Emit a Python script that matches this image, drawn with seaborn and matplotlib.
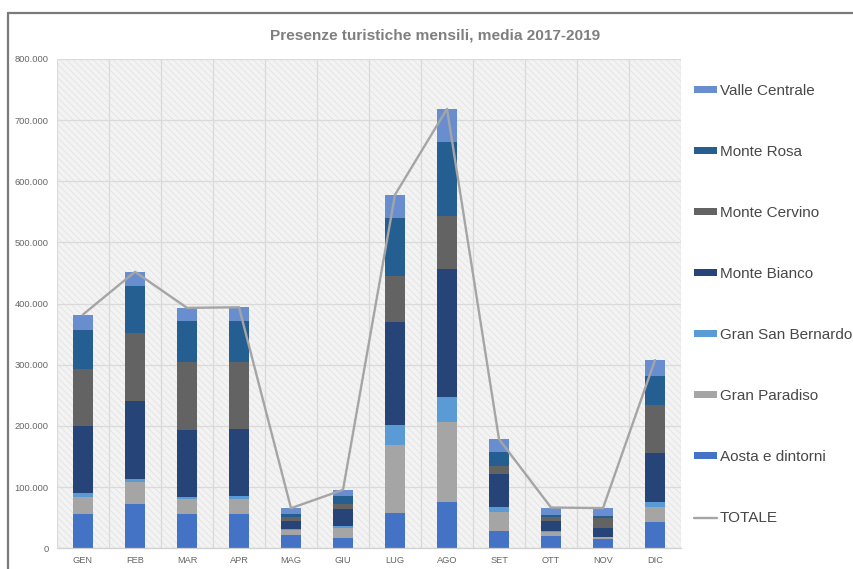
import numpy as np
import pandas as pd
import seaborn as sns
import matplotlib
matplotlib.use("Agg")
import matplotlib.pyplot as plt
from matplotlib import font_manager
from matplotlib.patches import Patch, Rectangle
from matplotlib.lines import Line2D
from matplotlib.ticker import FuncFormatter, MultipleLocator, FixedLocator

# ---- data: monthly tourist presences by area (average 2017-2019) ----
months = ["GEN", "FEB", "MAR", "APR", "MAG", "GIU", "LUG", "AGO", "SET", "OTT", "NOV", "DIC"]
aosta = [55700, 72600, 56000, 56000, 21900, 16400, 58500, 75400, 29000, 20200, 14800, 42600]
gran_paradiso = [28000, 35500, 24000, 25000, 8200, 17500, 110000, 131000, 30500, 7100, 3300, 25700]
gran_san_bernardo = [6500, 5500, 4600, 4600, 1600, 2700, 33000, 41000, 7500, 1600, 1100, 6600]
monte_bianco = [109000, 127500, 109500, 109500, 13700, 27900, 168000, 209000, 54500, 16400, 13700, 80800]
monte_cervino = [94500, 111000, 110000, 110000, 5500, 8200, 75500, 87500, 13500, 5500, 16400, 79300]
monte_rosa = [64000, 77000, 67000, 67000, 4900, 13100, 95000, 120000, 22000, 3300, 3800, 46400]
valle_centrale = [24500, 23000, 22000, 22000, 9800, 9800, 38000, 54500, 21500, 12600, 12600, 26300]

# stacking order, bottom to top
series = [
    ("Aosta e dintorni", aosta, "#4472c4"),
    ("Gran Paradiso", gran_paradiso, "#a5a5a5"),
    ("Gran San Bernardo", gran_san_bernardo, "#5b9bd5"),
    ("Monte Bianco", monte_bianco, "#264478"),
    ("Monte Cervino", monte_cervino, "#636363"),
    ("Monte Rosa", monte_rosa, "#255e91"),
    ("Valle Centrale", valle_centrale, "#698ed0"),
]

# ---- fonts ----
sns.set_theme(style="white")
installed = {f.name for f in font_manager.fontManager.ttflist}
if "Liberation Sans Narrow" in installed:
    base_family = ["Liberation Sans Narrow", "Liberation Sans", "DejaVu Sans"]
    narrow = True
else:
    base_family = ["Liberation Sans", "DejaVu Sans"]
    narrow = False
plt.rcParams["font.family"] = base_family
plt.rcParams["hatch.linewidth"] = 0.6

W, H = 854, 569
fig = plt.figure(figsize=(W / 100, H / 100), dpi=100)
fig.patch.set_facecolor("white")

ax_l, ax_r, ax_t, ax_b = 57, 681, 59, 548.3
ax = fig.add_axes([ax_l / W, 1 - ax_b / H, (ax_r - ax_l) / W, (ax_b - ax_t) / H])

# plot area background with fine diagonal texture
ax.set_facecolor("#f3f3f3")
ax.add_patch(Rectangle((0, 0), 1, 1, transform=ax.transAxes, facecolor="none",
                       edgecolor="#e3e3e3", lw=0, hatch="\\\\\\\\\\", zorder=0))

# ---- stacked bars: draw cumulative totals from top layer down ----
cum = np.zeros(len(months))
cums = []
for name, vals, color in series:
    cum = cum + np.array(vals, dtype=float)
    cums.append((name, cum.copy(), color))

for name, c, color in reversed(cums):
    d = pd.DataFrame({"mese": months, "valore": c})
    sns.barplot(data=d, x="mese", y="valore", color=color, width=0.385,
                saturation=1, linewidth=0, ax=ax, zorder=2, order=months)

# total line
totale = cums[-1][1]
ax.plot(np.arange(len(months)), totale, color="#a5a5a5", lw=1.7, zorder=4,
        solid_capstyle="round", solid_joinstyle="round")

# ---- axes styling ----
ax.set_xlim(-0.5, len(months) - 0.5)
ax.set_ylim(0, 800000)
ax.yaxis.set_major_locator(MultipleLocator(100000))
ax.yaxis.set_major_formatter(FuncFormatter(lambda v, p: f"{int(v):,}".replace(",", ".")))
ax.xaxis.set_minor_locator(FixedLocator(np.arange(-0.5, len(months), 1)))
ax.grid(axis="y", which="major", color="#dadada", lw=0.9, zorder=1)
ax.grid(axis="x", which="minor", color="#dadada", lw=0.9, zorder=1)
ax.grid(axis="x", which="major", visible=False)
ax.set_axisbelow(True)
for s in ["left", "right", "top"]:
    ax.spines[s].set_visible(False)
ax.spines["bottom"].set_color("#d0d0d0")
ax.spines["bottom"].set_linewidth(0.9)
ax.set_xlabel("")
ax.set_ylabel("")
tick_fs = 7.7 if narrow else 6.7
ax.tick_params(axis="y", length=0, pad=6, labelsize=tick_fs, labelcolor="#666666")
ax.tick_params(axis="x", which="both", length=0, pad=5.5, labelsize=tick_fs, labelcolor="#666666")

# ---- title ----
fig.text(435 / W, 1 - 36 / H, "Presenze turistiche mensili, media 2017-2019",
         ha="center", va="center", fontsize=11.1 if not narrow else 12.5,
         fontweight="bold", color="#7f7f7f")

# ---- legend ----
handles = [Patch(facecolor=color, edgecolor="none", label=name)
           for name, _, color in reversed(series)]
handles.append(Line2D([0], [0], color="#a5a5a5", lw=1.7, label="TOTALE"))
leg_fs = 11.0 if not narrow else 12.2
fig.legend(handles=handles, loc="upper left", bbox_to_anchor=(694 / W, 1 - 84 / H),
           frameon=False, fontsize=leg_fs, labelcolor="#484848",
           handlelength=1.5, handleheight=0.3, handletextpad=0.2,
           labelspacing=3.08, borderaxespad=0, borderpad=0)

# ---- outer frame (left and top edges) ----
fig.add_artist(Line2D([8 / W, 8 / W], [0, 1 - 13 / H], color="#7a7a7a", lw=1.6,
                      transform=fig.transFigure))
fig.add_artist(Line2D([8 / W, 1], [1 - 13 / H, 1 - 13 / H], color="#7a7a7a", lw=1.6,
                      transform=fig.transFigure))

fig.savefig("out.png", dpi=100, facecolor="white")
